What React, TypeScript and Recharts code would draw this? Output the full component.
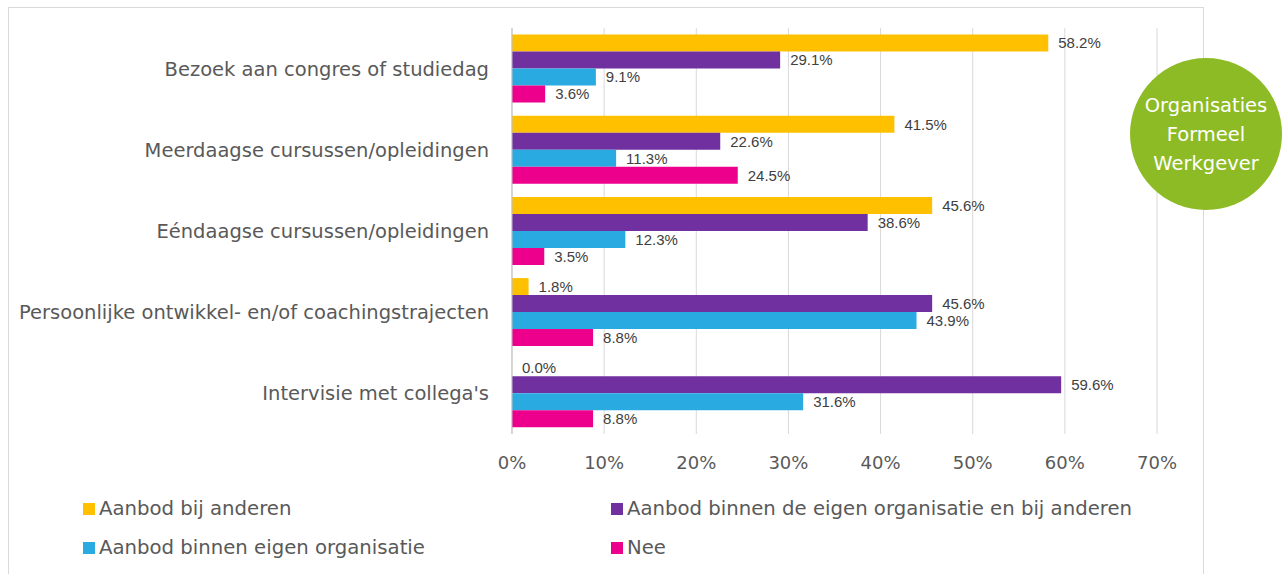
import { BarChart, Bar, XAxis, YAxis, CartesianGrid, LabelList } from "recharts";

const categories = [
  "Bezoek aan congres of studiedag",
  "Meerdaagse cursussen/opleidingen",
  "Eéndaagse cursussen/opleidingen",
  "Persoonlijke ontwikkel- en/of coachingstrajecten",
  "Intervisie met collega's",
];
const bijAnderen = [58.2, 41.5, 45.6, 1.8, 0.0];
const binnenEnBijAnderen = [29.1, 22.6, 38.6, 45.6, 59.6];
const binnenEigen = [9.1, 11.3, 12.3, 43.9, 31.6];
const nee = [3.6, 24.5, 3.5, 8.8, 8.8];
const xTicks = [0, 10, 20, 30, 40, 50, 60, 70];

const SERIES = [
  { key: "bij", label: "Aanbod bij anderen", color: "#FFC000" },
  { key: "beide", label: "Aanbod binnen de eigen organisatie en bij anderen", color: "#7030A0" },
  { key: "binnen", label: "Aanbod binnen eigen organisatie", color: "#29ABE2" },
  { key: "nee", label: "Nee", color: "#EC008C" },
];

const data = categories.map((name, i) => ({
  name,
  bij: bijAnderen[i],
  beide: binnenEnBijAnderen[i],
  binnen: binnenEigen[i],
  nee: nee[i],
}));

const textFont = "'DejaVu Sans', sans-serif";
const labelFont = "'Liberation Sans', sans-serif";

function LegendItem({ color, label, x, y }: { color: string; label: string; x: number; y: number }) {
  return (
    <div style={{ position: "absolute", left: x, top: y, display: "flex", alignItems: "center", fontFamily: textFont, fontSize: 19.7, lineHeight: "23px", color: "#595959", whiteSpace: "nowrap" }}>
      <span style={{ width: 12, height: 12, background: color, display: "inline-block", marginRight: 4 }} />
      {label}
    </div>
  );
}

export default function App() {
  return (
    <div style={{ position: "absolute", left: 0, top: 0, width: 1287, height: 574, overflow: "hidden", background: "#fff" }}>
      {/* outer frame */}
      <div style={{ position: "absolute", left: 8, top: 7, width: 1194, height: 600, border: "1px solid #d9d9d9" }} />

      <div style={{ position: "absolute", left: 0, top: 0 }}>
        <BarChart
          width={1287}
          height={480}
          data={data}
          layout="vertical"
          margin={{ top: 28, right: 130, left: 0, bottom: 16 }}
          barCategoryGap="8%"
          barGap={0}
        >
          <CartesianGrid horizontal={false} stroke="#d9d9d9" />
          <XAxis
            type="number"
            domain={[0, 70]}
            ticks={xTicks}
            tickFormatter={(v: number) => `${v}%`}
            axisLine={false}
            tickLine={false}
            tickSize={0}
            tickMargin={22}
            height={30}
            tick={{ fill: "#595959", fontSize: 18, fontFamily: textFont }}
          />
          <YAxis
            type="category"
            dataKey="name"
            width={512}
            axisLine={{ stroke: "#bfbfbf" }}
            tickLine={false}
            tickSize={0}
            tickMargin={23}
            tick={{ fill: "#595959", fontSize: 19.5, fontFamily: textFont }}
          />
          {SERIES.map((s) => (
            <Bar
              key={s.key}
              dataKey={s.key}
              fill={s.color}
              minPointSize={(v: number) => (v === 0 ? 0.01 : 0)}
              isAnimationActive={false}
            >
              <LabelList
                dataKey={s.key}
                position="right"
                offset={10}
                formatter={(v: any) => `${Number(v).toFixed(1)}%`}
                style={{ fill: "#404040", fontSize: 15, fontFamily: labelFont }}
              />
            </Bar>
          ))}
        </BarChart>
      </div>

      <LegendItem color={SERIES[0].color} label={SERIES[0].label} x={83} y={497} />
      <LegendItem color={SERIES[1].color} label={SERIES[1].label} x={611} y={497} />
      <LegendItem color={SERIES[2].color} label={SERIES[2].label} x={83} y={536} />
      <LegendItem color={SERIES[3].color} label={SERIES[3].label} x={611} y={536} />

      <div
        style={{
          position: "absolute",
          left: 1130,
          top: 58,
          width: 152,
          height: 152,
          borderRadius: "50%",
          background: "#8DBB25",
          color: "#fff",
          display: "flex",
          alignItems: "center",
          justifyContent: "center",
          textAlign: "center",
          fontFamily: textFont,
          fontSize: 19.5,
          lineHeight: "29px",
        }}
      >
        <div>
          Organisaties
          <br />
          Formeel
          <br />
          Werkgever
        </div>
      </div>
    </div>
  );
}
